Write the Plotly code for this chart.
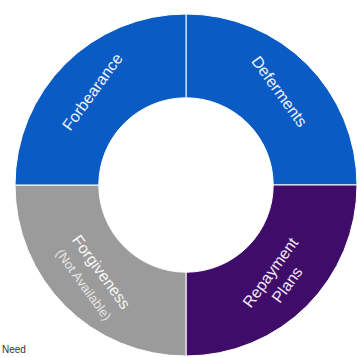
import math
import plotly.graph_objects as go

labels = ["Deferments", "Repayment<br>Plans",
          "Forgiveness<br><span style='font-size:13px;color:#e6e6e6'>(Not Available)</span>",
          "Forbearance"]
values = [1, 1, 1, 1]
colors = ["#0b5bc4", "#3f0d69", "#9b9b9b", "#0b5bc4"]
text_colors = ["#eef3ff", "#f3e6f6", "#f6f6f6", "#eef3ff"]

W = H = 357
dom_x = [0.042, 1.0]
dom_y = [0.0, 0.9636]
HOLE = 0.51
TILT = 1.2
FONT = "Liberation Sans, Arial, sans-serif"

fig = go.Figure(go.Pie(
    labels=labels, values=values, textinfo="none",
    sort=False, direction="clockwise", rotation=0, hole=HOLE,
    marker=dict(colors=colors, line=dict(color="white", width=1)),
    domain=dict(x=dom_x, y=dom_y),
    showlegend=False, hoverinfo="skip",
))

# geometry of the pie from its domain (plotly centres the pie in the domain)
dw = (dom_x[1] - dom_x[0]) * W
dh = (dom_y[1] - dom_y[0]) * H
R = min(dw, dh) / 2
cx = (dom_x[0] + dom_x[1]) / 2 * W
cy = (1 - (dom_y[0] + dom_y[1]) / 2) * H
r_mid = R * (1 + HOLE) / 2 + 3

total = sum(values)
cum = 0.0
for lab, v, tc in zip(labels, values, text_colors):
    mid = (cum + v / 2) / total
    cum += v
    theta = 90 - 360 * mid  # math angle, degrees
    t = math.radians(theta)
    px = cx + r_mid * math.cos(t)
    py = cy - r_mid * math.sin(t)
    ang = 90 - theta
    while ang > 90:
        ang -= 180
    while ang < -90:
        ang += 180
    fig.add_annotation(text=lab, x=px / W, y=1 - py / H, xref="paper", yref="paper",
                       showarrow=False, textangle=ang * TILT, xanchor="center", yanchor="middle",
                       font=dict(family=FONT, size=16, color=tc))

fig.add_annotation(text="Need", x=0.0, y=0.0, xref="paper", yref="paper",
                   xanchor="left", yanchor="bottom", showarrow=False,
                   font=dict(family=FONT, size=10, color="#333333"))
fig.update_layout(width=W, height=H, margin=dict(l=0, r=0, t=0, b=0),
                  paper_bgcolor="white", plot_bgcolor="white")
fig.write_html("out.html")
